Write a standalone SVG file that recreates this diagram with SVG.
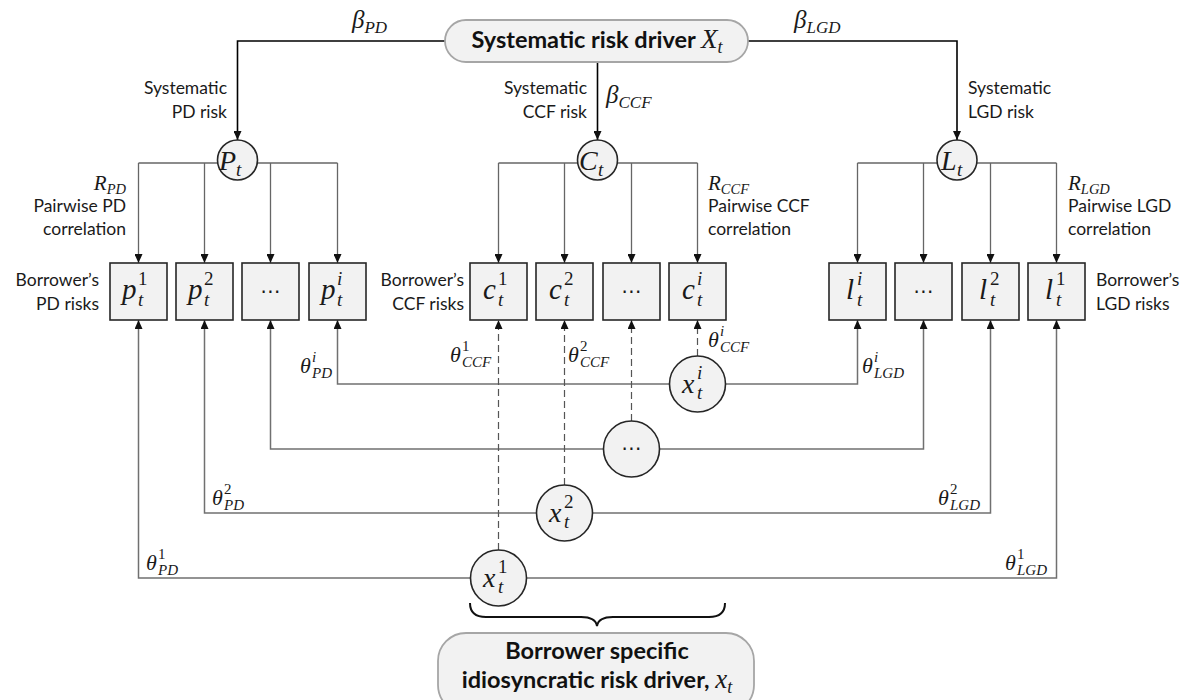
<svg xmlns="http://www.w3.org/2000/svg" width="1192" height="700" viewBox="0 0 1192 700">
<defs>
<marker id="ar" viewBox="0 0 9 8" refX="9" refY="4" markerWidth="9" markerHeight="8" markerUnits="userSpaceOnUse" orient="auto"><path d="M0,0 L9,4 L0,8 z" fill="#111"/></marker>
<style>
.n{fill:#f2f2f2;stroke:#262626;stroke-width:1.6}
.pill{fill:#f2f2f2;stroke:#a6a6a6;stroke-width:1.8}
.t{font-family:Lato,"Liberation Sans",sans-serif;font-size:17.5px;fill:#1a1a1a}
.dots{font-family:"DejaVu Sans",sans-serif;font-size:20px;fill:#1a1a1a}
.b{font-family:Lato,"Liberation Sans",sans-serif;font-weight:bold;font-size:23.5px;fill:#111}
.m{font-family:"Liberation Serif",serif;font-style:italic;fill:#1a1a1a}
.u{font-family:"Liberation Serif",serif;font-style:normal;fill:#1a1a1a}
.c1{stroke:#000;stroke-width:1.6;fill:none;marker-end:url(#ar)}
.c2{stroke:#666;stroke-width:1.3;fill:none}
.c2a{stroke:#666;stroke-width:1.3;fill:none;marker-end:url(#ar)}
.c3{stroke:#707070;stroke-width:1.5;fill:none;marker-end:url(#ar)}
.d{stroke:#555;stroke-width:1.2;fill:none;stroke-dasharray:7 4;marker-end:url(#ar)}
.br{stroke:#111;stroke-width:2;fill:none}
</style>
</defs>
<rect width="1192" height="700" fill="#fff"/>

<g id="connectors">
<path class="c1" d="M445,41 H237.5 V140"/>
<path class="c1" d="M748,41 H957 V140"/>
<path class="c1" d="M597.5,62 V140"/>
<path class="c2" d="M138.5,163 H337.5"/>
<path class="c2a" d="M138.5,163 V263"/>
<path class="c2a" d="M204.5,163 V263"/>
<path class="c2a" d="M270.5,163 V263"/>
<path class="c2a" d="M337.5,163 V263"/>
<path class="c2" d="M498.5,163 H697.5"/>
<path class="c2a" d="M498.5,163 V263"/>
<path class="c2a" d="M564.5,163 V263"/>
<path class="c2a" d="M631.5,163 V263"/>
<path class="c2a" d="M697.5,163 V263"/>
<path class="c2" d="M857.5,163 H1056.5"/>
<path class="c2a" d="M857.5,163 V263"/>
<path class="c2a" d="M923.5,163 V263"/>
<path class="c2a" d="M990.5,163 V263"/>
<path class="c2a" d="M1056.5,163 V263"/>
<path class="c3" d="M669.5,384 H337.5 V320"/>
<path class="c3" d="M725.5,384 H857.5 V320"/>
<path class="c3" d="M603.5,449 H270.5 V320"/>
<path class="c3" d="M659.5,449 H923.5 V320"/>
<path class="c3" d="M536.5,513 H204.5 V320"/>
<path class="c3" d="M592.5,513 H990.5 V320"/>
<path class="c3" d="M470.5,578 H138.5 V320"/>
<path class="c3" d="M526.5,578 H1056.5 V320"/>
<path class="d" d="M697.5,356 V320"/>
<path class="d" d="M631.5,421 V320"/>
<path class="d" d="M564.5,485 V320"/>
<path class="d" d="M498.5,550 V320"/>
<path class="br" d="M470,603 C470,613 476,617 486,617 H581 C591,617 596,620 597,626 C598,620 603,617 613,617 H709 C719,617 725,613 725,603"/>
</g>

<g id="systematic">
<rect class="pill" x="445" y="20" width="303" height="42" rx="21"/>
<text x="597" y="48" text-anchor="middle"><tspan class="b">Systematic risk driver </tspan><tspan class="m" font-size="27">X</tspan><tspan class="m" font-size="18" dy="5">t</tspan></text>
</g>

<g id="labels-top">
<text x="352" y="28"><tspan class="m" font-size="25">β</tspan><tspan class="m" font-size="17" dy="5">PD</tspan></text>
<text x="794" y="28"><tspan class="m" font-size="25">β</tspan><tspan class="m" font-size="17" dy="5">LGD</tspan></text>
<text x="606" y="103"><tspan class="m" font-size="25">β</tspan><tspan class="m" font-size="17" dy="5">CCF</tspan></text>
<text class="t" x="227" y="94" text-anchor="end">Systematic</text>
<text class="t" x="227" y="118" text-anchor="end">PD risk</text>
<text class="t" x="587" y="94" text-anchor="end">Systematic</text>
<text class="t" x="587" y="118" text-anchor="end">CCF risk</text>
<text class="t" x="968" y="94">Systematic</text>
<text class="t" x="968" y="118">LGD risk</text>
<text x="126" y="190" text-anchor="end"><tspan class="m" font-size="21">R</tspan><tspan class="m" font-size="14.5" dy="4">PD</tspan></text>
<text class="t" x="126" y="212" text-anchor="end">Pairwise PD</text>
<text class="t" x="126" y="235" text-anchor="end">correlation</text>
<text x="708" y="190"><tspan class="m" font-size="21">R</tspan><tspan class="m" font-size="14.5" dy="4">CCF</tspan></text>
<text class="t" x="708" y="212">Pairwise CCF</text>
<text class="t" x="708" y="235">correlation</text>
<text x="1068" y="190"><tspan class="m" font-size="21">R</tspan><tspan class="m" font-size="14.5" dy="4">LGD</tspan></text>
<text class="t" x="1068" y="212">Pairwise LGD</text>
<text class="t" x="1068" y="235">correlation</text>
<text class="t" x="99" y="286" text-anchor="end">Borrower’s</text>
<text class="t" x="99" y="310" text-anchor="end">PD risks</text>
<text class="t" x="464" y="286" text-anchor="end">Borrower’s</text>
<text class="t" x="464" y="310" text-anchor="end">CCF risks</text>
<text class="t" x="1096" y="286">Borrower’s</text>
<text class="t" x="1096" y="310">LGD risks</text>
</g>

<g id="Pt"><circle class="n" cx="237.5" cy="160" r="20"/><text class="m" x="219" y="170" font-size="28">P</text><text class="m" x="236" y="176" font-size="19">t</text></g>
<g id="Ct"><circle class="n" cx="597.5" cy="160" r="20"/><text class="m" x="579" y="170" font-size="28">C</text><text class="m" x="598" y="176" font-size="19">t</text></g>
<g id="Lt"><circle class="n" cx="957" cy="160" r="20"/><text class="m" x="941" y="170" font-size="28">L</text><text class="m" x="957" y="176" font-size="19">t</text></g>

<g id="p1"><rect class="n" x="110" y="263" width="57" height="57"/><text class="m" x="122" y="299" font-size="29">p</text><text class="u" x="138" y="285" font-size="19">1</text><text class="m" x="138" y="306" font-size="19">t</text></g>
<g id="p2"><rect class="n" x="176" y="263" width="57" height="57"/><text class="m" x="188" y="299" font-size="29">p</text><text class="u" x="204" y="285" font-size="19">2</text><text class="m" x="204" y="306" font-size="19">t</text></g>
<g id="pdots"><rect class="n" x="242" y="263" width="57" height="57"/><text class="dots" x="270.5" y="298" text-anchor="middle">⋯</text></g>
<g id="pi"><rect class="n" x="309" y="263" width="57" height="57"/><text class="m" x="321" y="299" font-size="29">p</text><text class="m" x="337" y="285" font-size="19">i</text><text class="m" x="337" y="306" font-size="19">t</text></g>

<g id="c1"><rect class="n" x="470" y="263" width="57" height="57"/><text class="m" x="483" y="299" font-size="29">c</text><text class="u" x="498" y="285" font-size="19">1</text><text class="m" x="498" y="306" font-size="19">t</text></g>
<g id="c2"><rect class="n" x="536" y="263" width="57" height="57"/><text class="m" x="549" y="299" font-size="29">c</text><text class="u" x="564" y="285" font-size="19">2</text><text class="m" x="564" y="306" font-size="19">t</text></g>
<g id="cdots"><rect class="n" x="603" y="263" width="57" height="57"/><text class="dots" x="631.5" y="298" text-anchor="middle">⋯</text></g>
<g id="ci"><rect class="n" x="669" y="263" width="57" height="57"/><text class="m" x="682" y="299" font-size="29">c</text><text class="m" x="697" y="285" font-size="19">i</text><text class="m" x="697" y="306" font-size="19">t</text></g>

<g id="li"><rect class="n" x="829" y="263" width="57" height="57"/><text class="m" x="846" y="299" font-size="29">l</text><text class="m" x="857" y="285" font-size="19">i</text><text class="m" x="857" y="306" font-size="19">t</text></g>
<g id="ldots"><rect class="n" x="895" y="263" width="57" height="57"/><text class="dots" x="923.5" y="298" text-anchor="middle">⋯</text></g>
<g id="l2"><rect class="n" x="962" y="263" width="57" height="57"/><text class="m" x="979" y="299" font-size="29">l</text><text class="u" x="990" y="285" font-size="19">2</text><text class="m" x="990" y="306" font-size="19">t</text></g>
<g id="l1"><rect class="n" x="1028" y="263" width="57" height="57"/><text class="m" x="1045" y="299" font-size="29">l</text><text class="u" x="1056" y="285" font-size="19">1</text><text class="m" x="1056" y="306" font-size="19">t</text></g>

<g id="xi"><circle class="n" cx="697.5" cy="384" r="28"/><text class="m" x="682" y="393" font-size="28">x</text><text class="m" x="697" y="379" font-size="19">i</text><text class="m" x="697" y="399" font-size="19">t</text></g>
<g id="xdots"><circle class="n" cx="631.5" cy="449" r="28"/><text class="dots" x="631.5" y="455" text-anchor="middle">⋯</text></g>
<g id="x2"><circle class="n" cx="564.5" cy="513" r="28"/><text class="m" x="549" y="522" font-size="28">x</text><text class="u" x="564" y="508" font-size="19">2</text><text class="m" x="564" y="528" font-size="19">t</text></g>
<g id="x1"><circle class="n" cx="498.5" cy="578" r="28"/><text class="m" x="483" y="587" font-size="28">x</text><text class="u" x="498" y="573" font-size="19">1</text><text class="m" x="498" y="593" font-size="19">t</text></g>

<g id="theta-labels">
<text class="m" x="300" y="373" font-size="22">θ</text><text class="m" x="312" y="362" font-size="15">i</text><text class="m" x="312" y="378" font-size="15">PD</text>
<text class="m" x="862" y="373" font-size="22">θ</text><text class="m" x="874" y="362" font-size="15">i</text><text class="m" x="874" y="378" font-size="15">LGD</text>
<text class="m" x="708" y="347" font-size="22">θ</text><text class="m" x="720" y="336" font-size="15">i</text><text class="m" x="720" y="352" font-size="15">CCF</text>
<text class="m" x="450" y="362" font-size="22">θ</text><text class="u" x="462" y="351" font-size="15">1</text><text class="m" x="462" y="367" font-size="15">CCF</text>
<text class="m" x="568" y="362" font-size="22">θ</text><text class="u" x="580" y="351" font-size="15">2</text><text class="m" x="580" y="367" font-size="15">CCF</text>
<text class="m" x="212" y="505" font-size="22">θ</text><text class="u" x="224" y="494" font-size="15">2</text><text class="m" x="224" y="510" font-size="15">PD</text>
<text class="m" x="146" y="570" font-size="22">θ</text><text class="u" x="158" y="559" font-size="15">1</text><text class="m" x="158" y="575" font-size="15">PD</text>
<text class="m" x="938" y="505" font-size="22">θ</text><text class="u" x="950" y="494" font-size="15">2</text><text class="m" x="950" y="510" font-size="15">LGD</text>
<text class="m" x="1005" y="570" font-size="22">θ</text><text class="u" x="1017" y="559" font-size="15">1</text><text class="m" x="1017" y="575" font-size="15">LGD</text>
</g>

<g id="idiosyncratic">
<rect class="pill" x="438" y="633" width="316" height="80" rx="28"/>
<text class="b" x="597" y="659" text-anchor="middle">Borrower specific</text>
<text x="597" y="688" text-anchor="middle"><tspan class="b">idiosyncratic risk driver, </tspan><tspan class="m" font-size="27">x</tspan><tspan class="m" font-size="18" dy="5">t</tspan></text>
</g>
</svg>
